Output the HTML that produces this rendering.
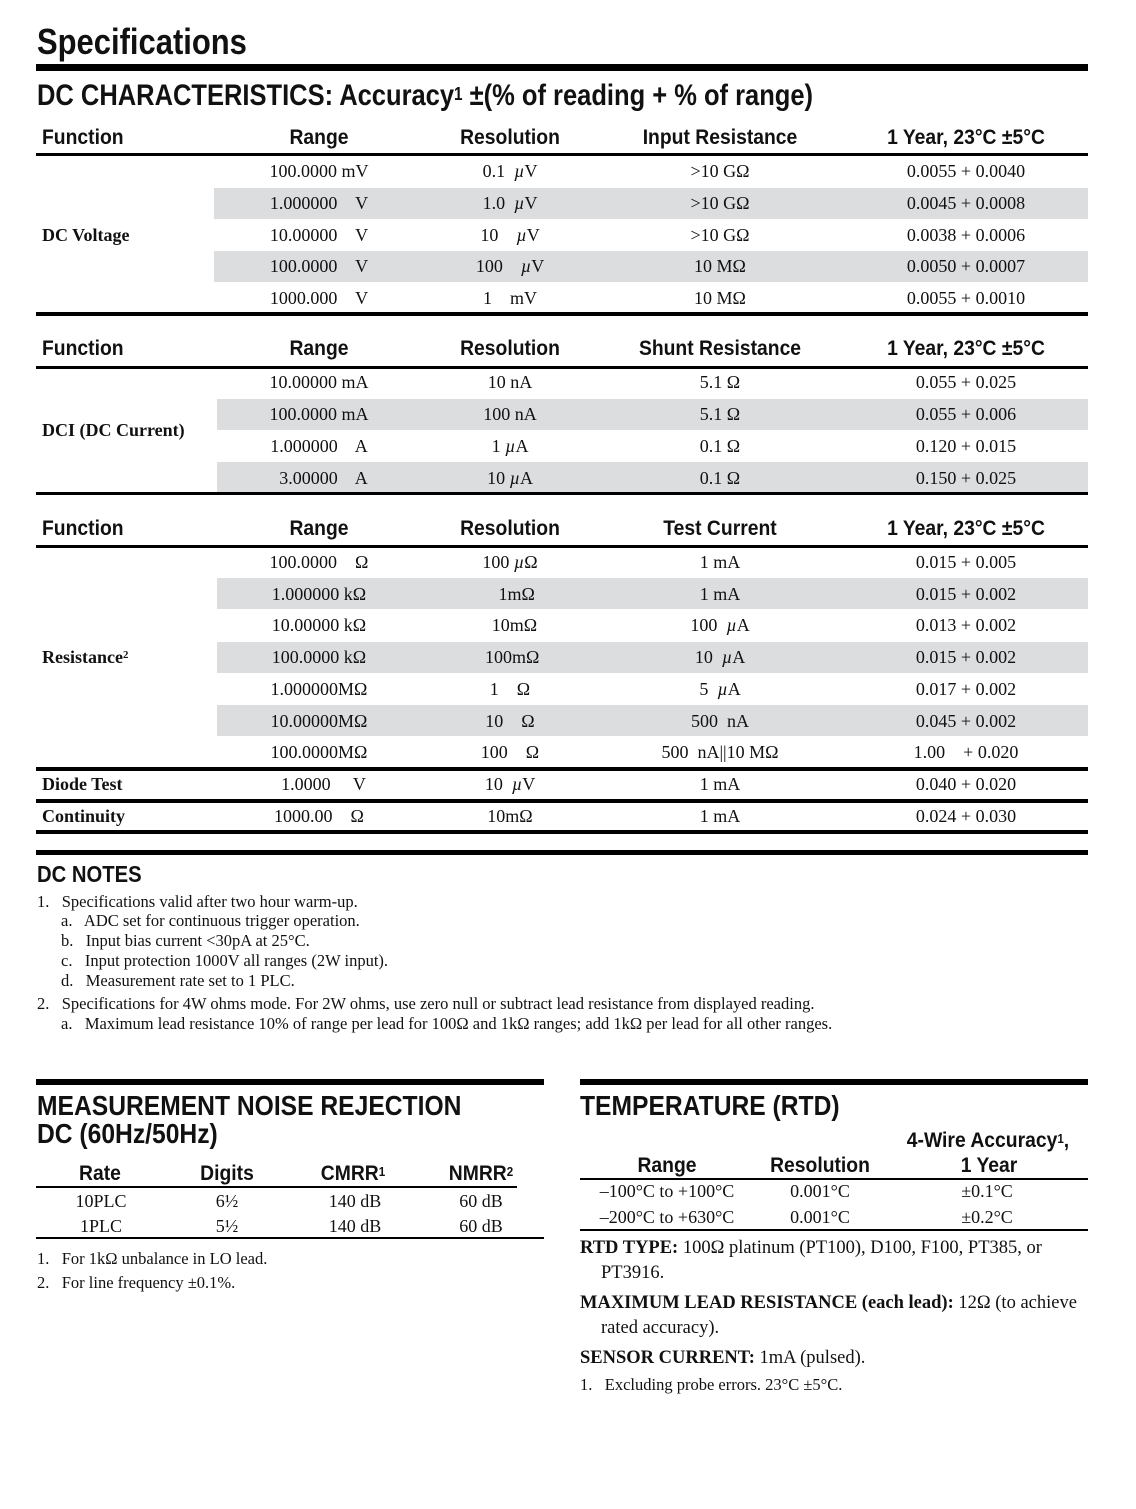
<!DOCTYPE html>
<html><head><meta charset="utf-8"><style>
body{margin:0;width:1136px;height:1509px;background:#fff;position:relative;overflow:hidden;color:#111}
div{position:absolute;white-space:pre}
.t{height:30px;line-height:30px;font-family:"Liberation Serif",serif;font-size:18px}
.h{height:30px;line-height:30px;font-family:"Liberation Sans",sans-serif;font-weight:bold;font-size:21px;transform:scaleX(0.92)}
.hl{transform-origin:left center}
.c{text-align:center;width:240px}
.f{left:42px;font-weight:bold}
.r{left:199px}.s{left:390px}.i{left:600px}.a{left:846px}
.bar{background:#000}
.g{background:#dcdddf}
.n{height:20px;line-height:20px;font-family:"Liberation Serif",serif;font-size:16.5px}
.p{height:26px;line-height:26px;font-family:"Liberation Serif",serif;font-size:18.5px}
sup{font-size:60%;vertical-align:top;position:relative;top:-2px}
</style></head><body>
<div class="h hl" style="left:37px;top:22px;height:40px;line-height:40px;font-size:36px;transform:scaleX(0.86)">Specifications</div>
<div class="bar" style="left:36px;top:64px;width:1052px;height:7px"></div>
<div class="h hl" style="left:37px;top:78px;height:36px;line-height:36px;font-size:30px;transform:scaleX(0.85)">DC CHARACTERISTICS: Accuracy<sup>1</sup> ±(% of reading + % of range)</div>

<!-- Table 1 -->
<div class="h hl f" style="top:123px">Function</div>
<div class="h c r" style="top:123px">Range</div>
<div class="h c s" style="top:123px">Resolution</div>
<div class="h c i" style="top:123px">Input Resistance</div>
<div class="h c a" style="top:123px">1 Year, 23°C ±5°C</div>
<div class="bar" style="left:36px;top:153px;width:1052px;height:3px"></div>
<div class="g" style="left:214px;top:188px;width:874px;height:31px"></div>
<div class="g" style="left:214px;top:251px;width:874px;height:31px"></div>
<div class="t f" style="top:220px">DC Voltage</div>
<div class="t c r" style="top:156px">100.0000 mV</div><div class="t c s" style="top:156px">0.1  <i>µ</i>V</div><div class="t c i" style="top:156px">&gt;10 GΩ</div><div class="t c a" style="top:156px">0.0055 + 0.0040</div>
<div class="t c r" style="top:188px">1.000000    V</div><div class="t c s" style="top:188px">1.0  <i>µ</i>V</div><div class="t c i" style="top:188px">&gt;10 GΩ</div><div class="t c a" style="top:188px">0.0045 + 0.0008</div>
<div class="t c r" style="top:220px">10.00000    V</div><div class="t c s" style="top:220px">10    <i>µ</i>V</div><div class="t c i" style="top:220px">&gt;10 GΩ</div><div class="t c a" style="top:220px">0.0038 + 0.0006</div>
<div class="t c r" style="top:251px">100.0000    V</div><div class="t c s" style="top:251px">100    <i>µ</i>V</div><div class="t c i" style="top:251px">10 MΩ</div><div class="t c a" style="top:251px">0.0050 + 0.0007</div>
<div class="t c r" style="top:283px">1000.000    V</div><div class="t c s" style="top:283px">1    mV</div><div class="t c i" style="top:283px">10 MΩ</div><div class="t c a" style="top:283px">0.0055 + 0.0010</div>
<div class="bar" style="left:36px;top:312px;width:1052px;height:4px"></div>

<!-- Table 2 -->
<div class="h hl f" style="top:334px">Function</div>
<div class="h c r" style="top:334px">Range</div>
<div class="h c s" style="top:334px">Resolution</div>
<div class="h c i" style="top:334px">Shunt Resistance</div>
<div class="h c a" style="top:334px">1 Year, 23°C ±5°C</div>
<div class="bar" style="left:36px;top:366px;width:1052px;height:3px"></div>
<div class="g" style="left:217px;top:399px;width:871px;height:31px"></div>
<div class="g" style="left:217px;top:462px;width:871px;height:31px"></div>
<div class="t f" style="top:415px">DCI (DC Current)</div>
<div class="t c r" style="top:367px">10.00000 mA</div><div class="t c s" style="top:367px">10 nA</div><div class="t c i" style="top:367px">5.1 Ω</div><div class="t c a" style="top:367px">0.055 + 0.025</div>
<div class="t c r" style="top:399px">100.0000 mA</div><div class="t c s" style="top:399px">100 nA</div><div class="t c i" style="top:399px">5.1 Ω</div><div class="t c a" style="top:399px">0.055 + 0.006</div>
<div class="t c r" style="top:431px">1.000000    A</div><div class="t c s" style="top:431px">1 <i>µ</i>A</div><div class="t c i" style="top:431px">0.1 Ω</div><div class="t c a" style="top:431px">0.120 + 0.015</div>
<div class="t c r" style="top:463px">  3.00000    A</div><div class="t c s" style="top:463px">10 <i>µ</i>A</div><div class="t c i" style="top:463px">0.1 Ω</div><div class="t c a" style="top:463px">0.150 + 0.025</div>
<div class="bar" style="left:36px;top:492px;width:1052px;height:3px"></div>

<!-- Table 3 -->
<div class="h hl f" style="top:514px">Function</div>
<div class="h c r" style="top:514px">Range</div>
<div class="h c s" style="top:514px">Resolution</div>
<div class="h c i" style="top:514px">Test Current</div>
<div class="h c a" style="top:514px">1 Year, 23°C ±5°C</div>
<div class="bar" style="left:36px;top:545px;width:1052px;height:3px"></div>
<div class="g" style="left:217px;top:578px;width:871px;height:31px"></div>
<div class="g" style="left:217px;top:642px;width:871px;height:31px"></div>
<div class="g" style="left:217px;top:705px;width:871px;height:31px"></div>
<div class="t f" style="top:642px">Resistance<sup>2</sup></div>
<div class="t c r" style="top:547px">100.0000    Ω</div><div class="t c s" style="top:547px">100 <i>µ</i>Ω</div><div class="t c i" style="top:547px">1 mA</div><div class="t c a" style="top:547px">0.015 + 0.005</div>
<div class="t c r" style="top:579px">1.000000 kΩ</div><div class="t c s" style="top:579px">   1mΩ</div><div class="t c i" style="top:579px">1 mA</div><div class="t c a" style="top:579px">0.015 + 0.002</div>
<div class="t c r" style="top:610px">10.00000 kΩ</div><div class="t c s" style="top:610px">  10mΩ</div><div class="t c i" style="top:610px">100  <i>µ</i>A</div><div class="t c a" style="top:610px">0.013 + 0.002</div>
<div class="t c r" style="top:642px">100.0000 kΩ</div><div class="t c s" style="top:642px"> 100mΩ</div><div class="t c i" style="top:642px">10  <i>µ</i>A</div><div class="t c a" style="top:642px">0.015 + 0.002</div>
<div class="t c r" style="top:674px">1.000000MΩ</div><div class="t c s" style="top:674px">1    Ω</div><div class="t c i" style="top:674px">5  <i>µ</i>A</div><div class="t c a" style="top:674px">0.017 + 0.002</div>
<div class="t c r" style="top:706px">10.00000MΩ</div><div class="t c s" style="top:706px">10    Ω</div><div class="t c i" style="top:706px">500  nA</div><div class="t c a" style="top:706px">0.045 + 0.002</div>
<div class="t c r" style="top:737px">100.0000MΩ</div><div class="t c s" style="top:737px">100    Ω</div><div class="t c i" style="top:737px">500  nA||10 MΩ</div><div class="t c a" style="top:737px">1.00    + 0.020</div>
<div class="bar" style="left:36px;top:767px;width:1052px;height:4px"></div>
<div class="t f" style="top:769px">Diode Test</div>
<div class="t c r" style="top:769px">  1.0000     V</div><div class="t c s" style="top:769px">10  <i>µ</i>V</div><div class="t c i" style="top:769px">1 mA</div><div class="t c a" style="top:769px">0.040 + 0.020</div>
<div class="bar" style="left:36px;top:799px;width:1052px;height:4px"></div>
<div class="t f" style="top:801px">Continuity</div>
<div class="t c r" style="top:801px">1000.00    Ω</div><div class="t c s" style="top:801px">10mΩ</div><div class="t c i" style="top:801px">1 mA</div><div class="t c a" style="top:801px">0.024 + 0.030</div>
<div class="bar" style="left:36px;top:830px;width:1052px;height:4px"></div>
<div class="bar" style="left:36px;top:850px;width:1052px;height:5px"></div>

<div class="h hl" style="left:37px;top:859px;font-size:23px;transform:scaleX(0.88)">DC NOTES</div>
<div class="n" style="left:37px;top:892px">1.   Specifications valid after two hour warm-up.</div>
<div class="n" style="left:61px;top:911px">a.   ADC set for continuous trigger operation.</div>
<div class="n" style="left:61px;top:931px">b.   Input bias current &lt;30pA at 25°C.</div>
<div class="n" style="left:61px;top:951px">c.   Input protection 1000V all ranges (2W input).</div>
<div class="n" style="left:61px;top:971px">d.   Measurement rate set to 1 PLC.</div>
<div class="n" style="left:37px;top:994px">2.   Specifications for 4W ohms mode. For 2W ohms, use zero null or subtract lead resistance from displayed reading.</div>
<div class="n" style="left:61px;top:1014px">a.   Maximum lead resistance 10% of range per lead for 100Ω and 1kΩ ranges; add 1kΩ per lead for all other ranges.</div>

<!-- Noise rejection -->
<div class="bar" style="left:36px;top:1079px;width:508px;height:6px"></div>
<div class="h hl" style="left:37px;top:1089px;height:34px;line-height:34px;font-size:28px;transform:scaleX(0.88)">MEASUREMENT NOISE REJECTION</div>
<div class="h hl" style="left:37px;top:1117px;height:34px;line-height:34px;font-size:28px;transform:scaleX(0.88)">DC (60Hz/50Hz)</div>
<div class="h" style="left:0;width:200px;text-align:center;top:1159px">Rate</div>
<div class="h" style="left:127px;width:200px;text-align:center;top:1159px">Digits</div>
<div class="h" style="left:253px;width:200px;text-align:center;top:1159px">CMRR<sup>1</sup></div>
<div class="h" style="left:381px;width:200px;text-align:center;top:1159px">NMRR<sup>2</sup></div>
<div class="bar" style="left:36px;top:1186px;width:481px;height:2px"></div>
<div class="t" style="left:1px;width:200px;text-align:center;top:1186px">10PLC</div>
<div class="t" style="left:127px;width:200px;text-align:center;top:1186px">6½</div>
<div class="t" style="left:255px;width:200px;text-align:center;top:1186px">140 dB</div>
<div class="t" style="left:381px;width:200px;text-align:center;top:1186px">60 dB</div>
<div class="t" style="left:1px;width:200px;text-align:center;top:1211px">1PLC</div>
<div class="t" style="left:127px;width:200px;text-align:center;top:1211px">5½</div>
<div class="t" style="left:255px;width:200px;text-align:center;top:1211px">140 dB</div>
<div class="t" style="left:381px;width:200px;text-align:center;top:1211px">60 dB</div>
<div class="bar" style="left:36px;top:1237px;width:508px;height:2px"></div>
<div class="n" style="left:37px;top:1249px">1.   For 1kΩ unbalance in LO lead.</div>
<div class="n" style="left:37px;top:1273px">2.   For line frequency ±0.1%.</div>

<!-- Temperature -->
<div class="bar" style="left:580px;top:1079px;width:508px;height:6px"></div>
<div class="h hl" style="left:580px;top:1089px;height:34px;line-height:34px;font-size:28px;transform:scaleX(0.88)">TEMPERATURE (RTD)</div>
<div class="h" style="left:868px;width:240px;text-align:center;top:1126px">4-Wire Accuracy<sup>1</sup>,</div>
<div class="h" style="left:869px;width:240px;text-align:center;top:1151px">1 Year</div>
<div class="h" style="left:547px;width:240px;text-align:center;top:1151px">Range</div>
<div class="h" style="left:700px;width:240px;text-align:center;top:1151px">Resolution</div>
<div class="bar" style="left:580px;top:1178px;width:508px;height:2px"></div>
<div class="t" style="left:547px;width:240px;text-align:center;top:1176px">–100°C to +100°C</div>
<div class="t" style="left:700px;width:240px;text-align:center;top:1176px">0.001°C</div>
<div class="t" style="left:867px;width:240px;text-align:center;top:1176px">±0.1°C</div>
<div class="t" style="left:547px;width:240px;text-align:center;top:1202px">–200°C to +630°C</div>
<div class="t" style="left:700px;width:240px;text-align:center;top:1202px">0.001°C</div>
<div class="t" style="left:867px;width:240px;text-align:center;top:1202px">±0.2°C</div>
<div class="bar" style="left:580px;top:1229px;width:508px;height:2px"></div>
<div class="p" style="left:580px;top:1235px"><b>RTD TYPE:</b> 100Ω platinum (PT100), D100, F100, PT385, or</div>
<div class="p" style="left:601px;top:1260px">PT3916.</div>
<div class="p" style="left:580px;top:1290px"><b>MAXIMUM LEAD RESISTANCE (each lead):</b> 12Ω (to achieve</div>
<div class="p" style="left:601px;top:1315px">rated accuracy).</div>
<div class="p" style="left:580px;top:1345px"><b>SENSOR CURRENT:</b> 1mA (pulsed).</div>
<div class="n" style="left:580px;top:1375px">1.   Excluding probe errors. 23°C ±5°C.</div>
</body></html>
